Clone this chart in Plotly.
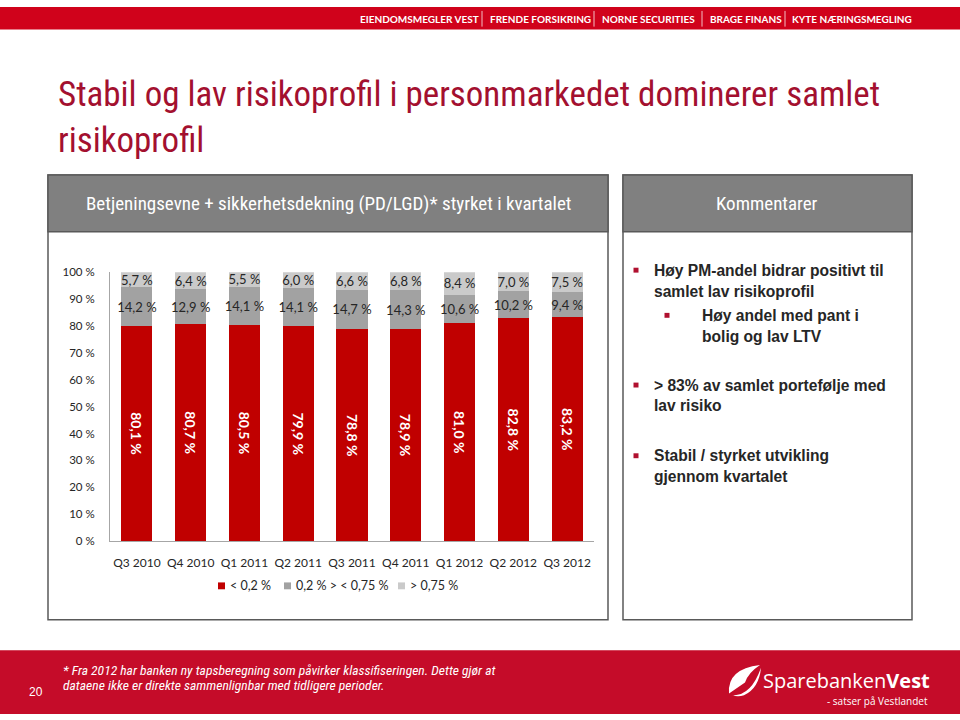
import plotly.graph_objects as go

categories = ["Q3 2010", "Q4 2010", "Q1 2011", "Q2 2011", "Q3 2011", "Q4 2011", "Q1 2012", "Q2 2012", "Q3 2012"]
low_risk = [80.1, 80.7, 80.5, 79.9, 78.8, 78.9, 81.0, 82.8, 83.2]
mid_risk = [14.2, 12.9, 14.1, 14.1, 14.7, 14.3, 10.6, 10.2, 9.4]
high_risk = [5.7, 6.4, 5.5, 6.0, 6.6, 6.8, 8.4, 7.0, 7.5]
series_names = ["< 0,2 %", "0,2 % > < 0,75 %", "> 0,75 %"]
series_colors = ["#c00000", "#a2a2a2", "#cacaca"]
y_ticks = [0, 10, 20, 30, 40, 50, 60, 70, 80, 90, 100]

banner_items = ["EIENDOMSMEGLER VEST", "FRENDE FORSIKRING", "NORNE SECURITIES", "BRAGE FINANS", "KYTE NÆRINGSMEGLING"]
title_lines = ["Stabil og lav risikoprofil i personmarkedet dominerer samlet", "risikoprofil"]
left_header = "Betjeningsevne + sikkerhetsdekning (PD/LGD)* styrket i kvartalet"
right_header = "Kommentarer"
footnote_lines = ["* Fra 2012 har banken ny tapsberegning som påvirker klassifiseringen. Dette gjør at",
                  "dataene ikke er direkte sammenlignbar med tidligere perioder."]

W, H = 960, 720


def X(px):
    return px / W


def Y(py):
    return 1 - py / H


def fmt(v):
    return f"{v:.1f}".replace(".", ",") + " %"


NUM_FONT = "Lato, Carlito, Open Sans, sans-serif"
NARROW = "Liberation Sans Narrow, Roboto Condensed, DejaVu Sans Condensed, Liberation Sans, sans-serif"
ARIAL = "Liberation Sans, Arial, sans-serif"

fig = go.Figure()
label_styles = [
    dict(textangle=90, textfont=dict(family=NUM_FONT, size=14, color="white", weight="bold")),
    dict(textangle=0, textfont=dict(family=NUM_FONT, size=13, color="#262626")),
    dict(textangle=0, textfont=dict(family=NUM_FONT, size=13, color="#262626")),
]
for vals, name, col, st in zip([low_risk, mid_risk, high_risk], series_names, series_colors, label_styles):
    fig.add_trace(go.Bar(
        x=categories, y=vals, name=name,
        marker=dict(color=col, line=dict(width=0)),
        text=[fmt(v) for v in vals], textposition="inside", insidetextanchor="middle",
        constraintext="none", hoverinfo="skip", showlegend=False, **st,
    ))

shapes = []
shapes.append(dict(type="rect", xref="paper", yref="paper", x0=0, x1=1, y0=Y(23), y1=1,
                   fillcolor="#d0021b", line=dict(width=0), layer="below"))
for sx in [482, 594, 702, 785]:
    shapes.append(dict(type="line", xref="paper", yref="paper", x0=X(sx), x1=X(sx), y0=Y(4), y1=Y(20),
                       line=dict(color="rgba(255,255,255,0.75)", width=1)))
for (x0, x1) in [(48, 608), (623, 912)]:
    shapes.append(dict(type="rect", xref="paper", yref="paper", x0=X(x0), x1=X(x1), y0=Y(624), y1=Y(171),
                       fillcolor="rgba(0,0,0,0)", line=dict(color="#595959", width=1.5), layer="below"))
    shapes.append(dict(type="rect", xref="paper", yref="paper", x0=X(x0), x1=X(x1), y0=Y(229), y1=Y(171),
                       fillcolor="#808080", line=dict(color="#595959", width=1.5), layer="below"))
shapes.append(dict(type="rect", xref="paper", yref="paper", x0=0, x1=1, y0=0, y1=Y(655),
                   fillcolor="#c50c29", line=dict(width=0), layer="below"))
for (bx, by) in [(636, 268), (667, 314), (636, 385), (636, 457)]:
    shapes.append(dict(type="rect", xref="paper", yref="paper", x0=X(bx - 2.5), x1=X(bx + 2.5),
                       y0=Y(by + 2.5), y1=Y(by - 2.5), fillcolor="#b0102f", line=dict(width=0)))
legend_sq_x = [218, 284, 398]
legend_txt_x = [228, 294, 408]
for lx, col in zip(legend_sq_x, series_colors):
    shapes.append(dict(type="rect", xref="paper", yref="paper", x0=X(lx), x1=X(lx + 7),
                       y0=Y(593), y1=Y(586), fillcolor=col, line=dict(width=0)))
shapes.append(dict(type="path", xref="paper", yref="paper",
                   path=(f"M {X(729)},{Y(699)} Q {X(727)},{Y(674)} {X(760)},{Y(670)} "
                         f"Q {X(748)},{Y(678)} {X(745)},{Y(688)} Q {X(738)},{Y(693)} {X(729)},{Y(699)} Z"),
                   fillcolor="white", line=dict(width=0)))
shapes.append(dict(type="path", xref="paper", yref="paper",
                   path=(f"M {X(732)},{Y(701)} Q {X(751)},{Y(702)} {X(761)},{Y(673)} "
                         f"Q {X(759)},{Y(694)} {X(744)},{Y(701)} Q {X(738)},{Y(703)} {X(732)},{Y(701)} Z"),
                   fillcolor="white", line=dict(width=0)))

ann = []
banner_x = [358, 488, 600, 708, 790]
for t, bx in zip(banner_items, banner_x):
    ann.append(dict(text=t, x=X(bx), y=Y(12.5), xref="paper", yref="paper", xanchor="left", yanchor="middle",
                    showarrow=False, font=dict(family="Lato, Open Sans, sans-serif", size=10, color="white", weight="bold")))
ann.append(dict(text="<br>".join(title_lines), x=X(56), y=Y(113), xref="paper", yref="paper",
                xanchor="left", yanchor="middle", align="left",
                showarrow=False, font=dict(family=NARROW, size=35, color="#a3102f")))
ann.append(dict(text=left_header, x=X(328), y=Y(200), xref="paper", yref="paper", xanchor="center", yanchor="middle",
                showarrow=False, font=dict(family=NARROW, size=19, color="white")))
ann.append(dict(text=right_header, x=X(767), y=Y(200), xref="paper", yref="paper", xanchor="center", yanchor="middle",
                showarrow=False, font=dict(family=NARROW, size=19, color="white")))
for tx, t in zip(legend_txt_x, series_names):
    ann.append(dict(text=t, x=X(tx), y=Y(589.5), xref="paper", yref="paper", xanchor="left", yanchor="middle",
                    showarrow=False, font=dict(family=NUM_FONT, size=12.5, color="#262626")))

comments = [
    (652, 268, "Høy PM-andel bidrar positivt til"),
    (652, 290, "samlet lav risikoprofil"),
    (700, 314, "Høy andel med pant i"),
    (700, 336, "bolig og lav LTV"),
    (652, 385, "> 83% av samlet portefølje med"),
    (652, 406, "lav risiko"),
    (652, 457, "Stabil / styrket utvikling"),
    (652, 478, "gjennom kvartalet"),
]
for cx, cy, t in comments:
    ann.append(dict(text=t, x=X(cx), y=Y(cy), xref="paper", yref="paper", xanchor="left", yanchor="middle",
                    showarrow=False, font=dict(family=ARIAL, size=15.6, color="#262626", weight="bold")))

for i, t in enumerate(footnote_lines):
    ann.append(dict(text=t, x=X(61), y=Y(675 + 15 * i), xref="paper", yref="paper", xanchor="left", yanchor="middle",
                    showarrow=False, font=dict(family=NARROW, size=13.6, color="white", style="italic")))
ann.append(dict(text="20", x=X(36), y=Y(698), xref="paper", yref="paper", xanchor="center", yanchor="middle",
                showarrow=False, font=dict(family=ARIAL, size=12, color="white")))
ann.append(dict(text="Sparebanken<b>Vest</b>", x=X(932), y=Y(686), xref="paper", yref="paper", xanchor="right", yanchor="middle",
                showarrow=False, font=dict(family="Open Sans, Lato, sans-serif", size=20, color="white")))
ann.append(dict(text="- satser på Vestlandet", x=X(930), y=Y(707), xref="paper", yref="paper", xanchor="right", yanchor="middle",
                showarrow=False, font=dict(family="Open Sans, Lato, sans-serif", size=10, color="white")))

fig.update_layout(
    width=W, height=H,
    margin=dict(l=0, r=0, t=0, b=0),
    paper_bgcolor="white", plot_bgcolor="white",
    barmode="stack", bargap=0.42,
    showlegend=False,
    xaxis=dict(domain=[X(110), X(594)], showgrid=False, showline=True, linecolor="#a6a6a6", linewidth=1,
               ticks="", tickfont=dict(family=NUM_FONT, size=12, color="#262626"), ticklabelstandoff=10,
               fixedrange=True),
    yaxis=dict(domain=[Y(544), Y(270)], range=[0, 100], tickmode="array", tickvals=y_ticks,
               ticktext=[f"{v} %" for v in y_ticks],
               showgrid=False, zeroline=False, showline=True, linecolor="#a6a6a6", linewidth=1,
               ticks="", tickfont=dict(family=NUM_FONT, size=11.5, color="#262626"), ticklabelstandoff=12,
               fixedrange=True),
    shapes=shapes,
    annotations=ann,
)

fig.write_html("out.html", config={"displayModeBar": False},
               post_script="document.body.style.margin='0';document.body.style.overflow='hidden';")
